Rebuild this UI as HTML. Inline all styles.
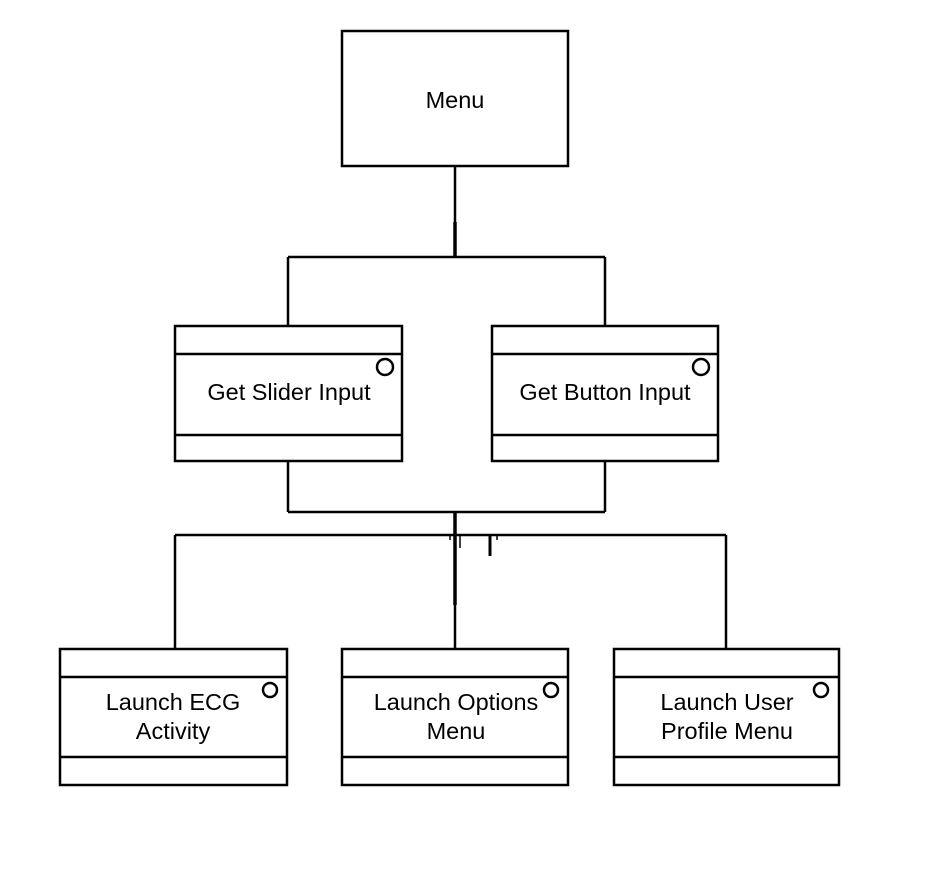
<!DOCTYPE html>
<html><head><meta charset="utf-8"><style>
html,body{margin:0;padding:0;background:#fff;}
svg{display:block;}
text{font-family:"Liberation Sans",Arial,sans-serif;font-size:23.5px;fill:#000;text-anchor:middle;}
</style></head><body>
<svg width="926" height="874" viewBox="0 0 926 874" xmlns="http://www.w3.org/2000/svg">
<g fill="none" stroke="#000" stroke-width="2.5">
<!-- Menu -->
<rect x="342" y="31" width="226" height="135"/>
<line x1="455" y1="166" x2="455" y2="257"/>
<line x1="455" y1="222" x2="455" y2="257" stroke-width="3.5"/>
<line x1="288" y1="257" x2="605" y2="257"/>
<line x1="288" y1="257" x2="288" y2="326"/>
<line x1="605" y1="257" x2="605" y2="326"/>
<!-- mid boxes -->
<rect x="175" y="326" width="227" height="135"/>
<line x1="175" y1="354" x2="402" y2="354"/>
<line x1="175" y1="435" x2="402" y2="435"/>
<circle cx="385" cy="367" r="8"/>
<rect x="492" y="326" width="226" height="135"/>
<line x1="492" y1="354" x2="718" y2="354"/>
<line x1="492" y1="435" x2="718" y2="435"/>
<circle cx="701" cy="367" r="8"/>
<!-- lower connectors -->
<line x1="288" y1="461" x2="288" y2="512"/>
<line x1="605" y1="461" x2="605" y2="512"/>
<line x1="288" y1="512" x2="605" y2="512"/>
<line x1="455" y1="512" x2="455" y2="605" stroke-width="3.5"/>
<line x1="455" y1="605" x2="455" y2="649"/>
<line x1="175" y1="535" x2="726" y2="535"/>
<line x1="175" y1="535" x2="175" y2="649"/>
<line x1="726" y1="535" x2="726" y2="649"/>
<line x1="450" y1="535" x2="450" y2="540" stroke-width="1.5"/>
<line x1="497" y1="535" x2="497" y2="540" stroke-width="1.5"/>
<line x1="460" y1="535" x2="460" y2="548" stroke-width="1.5"/>
<line x1="490" y1="535" x2="490" y2="556" stroke-width="3"/>
<!-- bottom boxes -->
<rect x="60" y="649" width="227" height="136"/>
<line x1="60" y1="677" x2="287" y2="677"/>
<line x1="60" y1="757" x2="287" y2="757"/>
<circle cx="270" cy="690" r="7"/>
<rect x="342" y="649" width="226" height="136"/>
<line x1="342" y1="677" x2="568" y2="677"/>
<line x1="342" y1="757" x2="568" y2="757"/>
<circle cx="551" cy="690" r="7"/>
<rect x="614" y="649" width="225" height="136"/>
<line x1="614" y1="677" x2="839" y2="677"/>
<line x1="614" y1="757" x2="839" y2="757"/>
<circle cx="821" cy="690" r="7"/>
</g>
<text x="455" y="108">Menu</text>
<text x="289" y="400">Get Slider Input</text>
<text x="605" y="400">Get Button Input</text>
<text x="173" y="710">Launch ECG</text>
<text x="173" y="739">Activity</text>
<text x="456" y="710">Launch Options</text>
<text x="456" y="739">Menu</text>
<text x="727" y="710">Launch User</text>
<text x="727" y="739">Profile Menu</text>
</svg>
</body></html>
